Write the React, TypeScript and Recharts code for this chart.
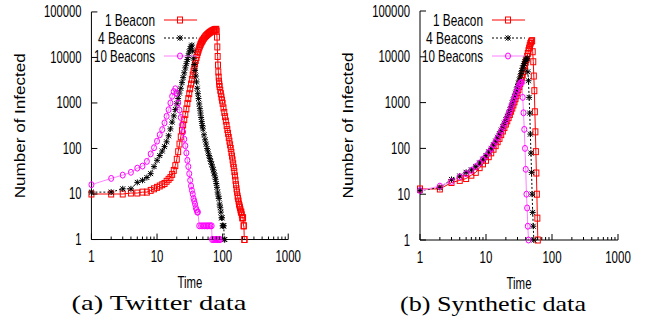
import React from "react";
import { LineChart, Line, XAxis, YAxis, Legend } from "recharts";

// axis ticks
const xMajor = [1, 10, 100, 1000];
const xMinor = [2, 3, 4, 5, 6, 7, 8, 9, 20, 30, 40, 50, 60, 70, 80, 90, 200, 300, 400, 500, 600, 700, 800, 900];
const xTicks = [...xMajor, ...xMinor].sort((a, b) => a - b);
const yTicks = [1, 10, 100, 1000, 10000, 100000];

const seriesNames = ["1 Beacon", "4 Beacons", "10 Beacons"];

// (a) Twitter data, [time, infected]
const twitter1: [number, number][] = [
  [1, 10], [2, 10], [3, 10], [4, 10.5], [5, 10.5], [6, 11], [7, 11], [8, 12], [9, 13], [10, 14],
  [11, 15], [12, 16], [13, 17], [14, 19], [15, 21], [16, 23], [17, 27], [18, 33], [19, 42], [20, 58],
  [21, 85], [22, 125], [23, 180], [24, 250], [25, 330], [26, 430], [27, 560], [28, 740], [29, 970], [30, 1250],
  [31, 1600], [32, 2050], [33, 2600], [34, 3300], [35, 4100], [36, 5000], [37, 6100], [38, 7300], [39, 8600], [40, 10000],
  [41, 11500], [42, 13000], [43, 14600], [44, 16200], [45, 17800], [46, 19300], [47, 20700], [48, 22000], [49, 23200], [50, 24400],
  [52, 26500], [54, 28400], [56, 30100], [58, 31700], [60, 33100], [62, 34400], [64, 35600], [66, 36700], [68, 37700], [70, 38600],
  [72, 39400], [74, 40100], [76, 40700], [78, 41200], [80, 41500], [81, 38000], [82, 28000], [83, 17000], [84, 10500], [85, 6800],
  [86, 4800], [87, 3700], [88, 3000], [89, 2600], [90, 2300], [92, 1900], [94, 1600], [96, 1350], [98, 1150], [100, 980],
  [103, 780], [106, 620], [109, 500], [112, 400], [115, 320], [118, 260], [121, 215], [124, 175], [127, 145], [130, 120],
  [133, 100], [136, 82], [139, 68], [142, 56], [145, 46], [148, 38], [151, 31], [154, 25], [157, 20], [160, 16],
  [163, 13], [166, 11], [169, 9], [172, 8], [175, 7], [178, 6], [181, 5.5], [184, 5], [187, 4.5], [190, 4],
  [193, 4], [196, 3.5], [199, 3], [202, 3], [205, 3], [208, 2], [211, 2], [214, 1], [216, 1],
];
const twitter4: [number, number][] = [
  [1, 11], [2, 11], [3, 13], [4, 13], [5, 18], [6, 20], [7, 23], [8, 28], [9, 40], [10, 55],
  [11, 70], [12, 88], [13, 110], [14, 140], [15, 190], [16, 270], [17, 380], [18, 520], [19, 720], [20, 960],
  [21, 1250], [22, 1650], [23, 2100], [24, 2800], [25, 3600], [26, 4600], [27, 5900], [28, 7300], [29, 9000], [30, 11000],
  [31, 13200], [32, 15500], [33, 17500], [34, 18600], [35, 14000], [36, 9600], [37, 7000], [38, 5200], [39, 3900], [40, 2900],
  [41, 2100], [42, 1600], [43, 1250], [44, 950], [45, 750], [46, 600], [47, 480], [48, 390], [49, 320], [50, 270],
  [52, 200], [54, 155], [56, 125], [58, 100], [60, 84], [62, 70], [64, 60], [66, 52], [68, 45], [70, 39],
  [72, 34], [74, 29], [76, 25], [78, 21], [80, 17], [82, 14], [84, 11], [86, 9], [88, 8], [90, 6],
  [92, 5], [94, 4], [96, 3], [98, 3], [100, 2], [102, 2], [104, 2], [106, 1], [108, 1],
];
const twitter10: [number, number][] = [
  [1, 16], [2, 22], [3, 26], [4, 30], [5, 37], [6, 41], [7, 52], [8, 76], [9, 104], [10, 145],
  [11, 200], [12, 260], [13, 365], [14, 510], [15, 710], [16, 1000], [17, 1400], [18, 1780], [19, 2050], [20, 1650],
  [21, 1000], [22, 700], [23, 480], [24, 330], [25, 230], [26, 160], [27, 115], [28, 80], [29, 55], [30, 40],
  [31, 28], [32, 20], [33, 15], [34, 12], [35, 10], [36, 8], [37, 7], [38, 6], [39, 5], [40, 4.5],
  [41, 4], [42, 4], [44, 2], [47, 2], [50, 2], [53, 2], [56, 2], [59, 2], [62, 2], [65, 2],
  [68, 2], [69, 1], [72, 1], [75, 1], [78, 1], [81, 1], [84, 1], [87, 1], [90, 1], [92, 1],
];

// (b) Synthetic data, [time, infected]
const synth1: [number, number][] = [
  [1, 13], [2, 13], [3, 18], [4, 20], [5, 22], [6, 26], [7, 30], [8, 38], [9, 46], [10, 55],
  [11, 66], [12, 80], [13, 96], [14, 115], [15, 140], [16, 165], [17, 200], [18, 240], [19, 285], [20, 340],
  [21, 400], [22, 470], [23, 550], [24, 650], [25, 760], [26, 890], [27, 1040], [28, 1220], [29, 1420], [30, 1650],
  [31, 1920], [32, 2250], [33, 2620], [34, 3050], [35, 3550], [36, 4100], [37, 4800], [38, 5600], [39, 6500], [40, 7600],
  [41, 8800], [42, 10200], [43, 11800], [44, 13600], [45, 15500], [46, 17500], [47, 19500], [48, 21000], [49, 22000], [50, 22500],
  [51, 12900], [52, 7800], [53, 3800], [54, 1820], [55, 630], [56, 230], [57, 85], [58, 29], [59, 10], [60, 3],
  [61, 1],
];
const synth4: [number, number][] = [
  [1, 12], [2, 14], [3, 21], [4, 25], [5, 30], [6, 34], [7, 40], [8, 48], [9, 58], [10, 70],
  [11, 84], [12, 100], [13, 120], [14, 145], [15, 175], [16, 210], [17, 250], [18, 300], [19, 355], [20, 420],
  [21, 500], [22, 590], [23, 700], [24, 830], [25, 980], [26, 1150], [27, 1350], [28, 1600], [29, 1900], [30, 2250],
  [31, 2650], [32, 3100], [33, 3650], [34, 4300], [35, 5000], [36, 5700], [37, 6400], [38, 7100], [39, 7800], [40, 8500],
  [41, 9000], [42, 9300], [43, 4700], [44, 3000], [45, 1300], [46, 590], [47, 205], [48, 79], [49, 30], [50, 10],
  [51, 4], [52, 2], [53, 1],
];
const synth10: [number, number][] = [
  [1, 12], [2, 15], [3, 19], [4, 24], [5, 28], [6, 33], [7, 40], [8, 48], [9, 58], [10, 68],
  [11, 82], [12, 98], [13, 118], [14, 140], [15, 168], [16, 200], [17, 240], [18, 285], [19, 340], [20, 400],
  [21, 470], [22, 560], [23, 660], [24, 780], [25, 920], [26, 1080], [27, 1260], [28, 1470], [29, 1700], [30, 1950],
  [31, 2200], [32, 2450], [33, 2650], [34, 2750], [35, 2750], [36, 1300], [37, 600], [38, 260], [39, 100], [40, 35],
  [41, 10], [42, 5], [43, 2], [44, 1],
];

const ink = "#000000";
const sans = "'Liberation Sans', Arial, sans-serif";
const serif = "'Liberation Serif', 'Times New Roman', serif";

const W = 327;
const H = 324;

const lineStyles = [
  { stroke: "#ff0000", dash: undefined as string | undefined, marker: "square", markColor: "#ff0000" },
  { stroke: "#000000", dash: "2 2", marker: "star", markColor: "#000000" },
  { stroke: "#ff80ff", dash: undefined as string | undefined, marker: "circle", markColor: "#ff00ff" },
];

function Marker({ kind, cx, cy, color }: { kind: string; cx: number; cy: number; color: string }) {
  if (kind === "square") {
    return <rect x={cx - 2.5} y={cy - 3} width={5} height={6} fill="none" stroke={color} strokeWidth={1} />;
  }
  if (kind === "circle") {
    return <ellipse cx={cx} cy={cy} rx={2.5} ry={3} fill="none" stroke={color} strokeWidth={1} />;
  }
  return (
    <g stroke={color} strokeWidth={1}>
      <line x1={cx - 2.5} y1={cy - 2.5} x2={cx + 2.5} y2={cy + 2.5} />
      <line x1={cx - 2.5} y1={cy + 2.5} x2={cx + 2.5} y2={cy - 2.5} />
      <line x1={cx - 3} y1={cy} x2={cx + 3} y2={cy} />
      <line x1={cx} y1={cy - 3} x2={cx} y2={cy + 3} />
    </g>
  );
}

const legendWidths = [50, 57, 61];

function renderLegend() {
  return (
    <svg width={W} height={70} style={{ display: "block" }}>
      {seriesNames.map((name, i) => {
        const cy = 20 + i * 18;
        const s = lineStyles[i];
        return (
          <g key={name}>
            <text
              x={155}
              y={cy + 6}
              textAnchor="end"
              fontFamily={sans}
              fontSize={17}
              textLength={legendWidths[i]}
              lengthAdjust="spacingAndGlyphs"
              fill={ink}
            >
              {name}
            </text>
            <line x1={164} y1={cy} x2={197} y2={cy} stroke={s.stroke} strokeDasharray={s.dash} strokeWidth={1} />
            <Marker kind={s.marker} cx={180} cy={cy} color={s.markColor} />
          </g>
        );
      })}
    </svg>
  );
}

function xTick(side: "bottom" | "top") {
  return (props: any) => {
    const { x, y, payload } = props;
    const v = payload.value;
    const major = xMajor.includes(v);
    const len = major ? 6 : 3;
    const dir = side === "bottom" ? -1 : 1;
    const label = String(v);
    return (
      <g>
        <line x1={x} y1={y} x2={x} y2={y + dir * len} stroke={ink} strokeWidth={1} />
        {side === "bottom" && major && (
          <text
            x={x}
            y={y + 23}
            textAnchor="middle"
            fontFamily={sans}
            fontSize={16}
            textLength={label.length * 6.4}
            lengthAdjust="spacingAndGlyphs"
            fill={ink}
          >
            {label}
          </text>
        )}
      </g>
    );
  };
}

function yTick(side: "left" | "right") {
  return (props: any) => {
    const { x, y, payload } = props;
    const label = String(payload.value);
    const dir = side === "left" ? 1 : -1;
    return (
      <g>
        <line x1={x} y1={y} x2={x + dir * 6} y2={y} stroke={ink} strokeWidth={1} />
        {side === "left" && (
          <text
            x={x - 10}
            y={y + 5.5}
            textAnchor="end"
            fontFamily={sans}
            fontSize={16}
            textLength={label.length * 6.3}
            lengthAdjust="spacingAndGlyphs"
            fill={ink}
          >
            {label}
          </text>
        )}
      </g>
    );
  };
}

function Panel({
  series,
  caption,
  captionX,
  captionWidth,
}: {
  series: [number, number][][];
  caption: string;
  captionX: number;
  captionWidth: number;
}) {
  return (
    <LineChart width={W} height={H} margin={{ top: 11, right: 37, bottom: 0, left: 0 }}>
      <XAxis
        xAxisId="x"
        type="number"
        dataKey="t"
        scale="log"
        domain={[1, 1000]}
        ticks={xTicks}
        interval={0}
        height={84}
        tickSize={0}
        tickMargin={0}
        tickLine={false}
        axisLine={{ stroke: ink }}
        tick={xTick("bottom")}
        label={(p: any) => {
          const vb = p.viewBox;
          return (
            <g>
              <text
                x={vb.x + vb.width / 2}
                y={289}
                textAnchor="middle"
                fontFamily={sans}
                fontSize={16}
                textLength={25}
                lengthAdjust="spacingAndGlyphs"
                fill={ink}
              >
                Time
              </text>
              <text
                x={captionX}
                y={311}
                textAnchor="middle"
                fontFamily={serif}
                fontSize={21}
                textLength={captionWidth}
                lengthAdjust="spacingAndGlyphs"
                fill={ink}
              >
                {caption}
              </text>
            </g>
          );
        }}
      />
      <XAxis
        xAxisId="xt"
        orientation="top"
        type="number"
        dataKey="t"
        scale="log"
        domain={[1, 1000]}
        allowDataOverflow
        ticks={xTicks}
        interval={0}
        height={0}
        tickSize={0}
        tickMargin={0}
        tickLine={false}
        axisLine={{ stroke: ink }}
        tick={xTick("top")}
      />
      <YAxis
        yAxisId="y"
        type="number"
        scale="log"
        domain={[1, 100000]}
        ticks={yTicks}
        interval={0}
        width={92}
        tickSize={0}
        tickMargin={0}
        tickLine={false}
        axisLine={{ stroke: ink }}
        tick={yTick("left")}
        label={(p: any) => {
          const vb = p.viewBox;
          const cy = vb.y + vb.height / 2;
          return (
            <text
              x={25}
              y={cy}
              transform={`rotate(-90 25 ${cy})`}
              textAnchor="middle"
              fontFamily={sans}
              fontSize={15}
              textLength={146}
              lengthAdjust="spacingAndGlyphs"
              fill={ink}
            >
              Number of Infected
            </text>
          );
        }}
      />
      <YAxis
        yAxisId="yr"
        orientation="right"
        type="number"
        scale="log"
        domain={[1, 100000]}
        allowDataOverflow
        ticks={yTicks}
        interval={0}
        width={0}
        tickSize={0}
        tickMargin={0}
        tickLine={false}
        axisLine={{ stroke: ink }}
        tick={yTick("right")}
      />
      <Legend
        layout="horizontal"
        verticalAlign="middle"
        align="center"
        content={renderLegend}
        wrapperStyle={{ position: "absolute", top: 0, left: 0, width: W, height: 70 }}
      />
      {series.map((pts, i) => {
        const s = lineStyles[i];
        return (
          <Line
            key={seriesNames[i]}
            name={seriesNames[i]}
            xAxisId="x"
            yAxisId="y"
            data={pts.map(([t, v]) => ({ t, v }))}
            dataKey="v"
            type="linear"
            stroke={s.stroke}
            strokeWidth={1}
            strokeDasharray={s.dash}
            isAnimationActive={false}
            dot={(d: any) => (
              <Marker key={`${seriesNames[i]}-${d.index}`} kind={s.marker} cx={d.cx} cy={d.cy} color={s.markColor} />
            )}
            activeDot={false}
          />
        );
      })}
    </LineChart>
  );
}

export default function App() {
  return (
    <div
      style={{
        position: "absolute",
        left: 0,
        top: 0,
        width: 655,
        height: 324,
        background: "#ffffff",
        display: "flex",
      }}
    >
      <Panel series={[twitter1, twitter4, twitter10]} caption="(a) Twitter data" captionX={160} captionWidth={176} />
      <div style={{ marginLeft: 3 }}>
        <Panel series={[synth1, synth4, synth10]} caption="(b) Synthetic data" captionX={165} captionWidth={186} />
      </div>
    </div>
  );
}
